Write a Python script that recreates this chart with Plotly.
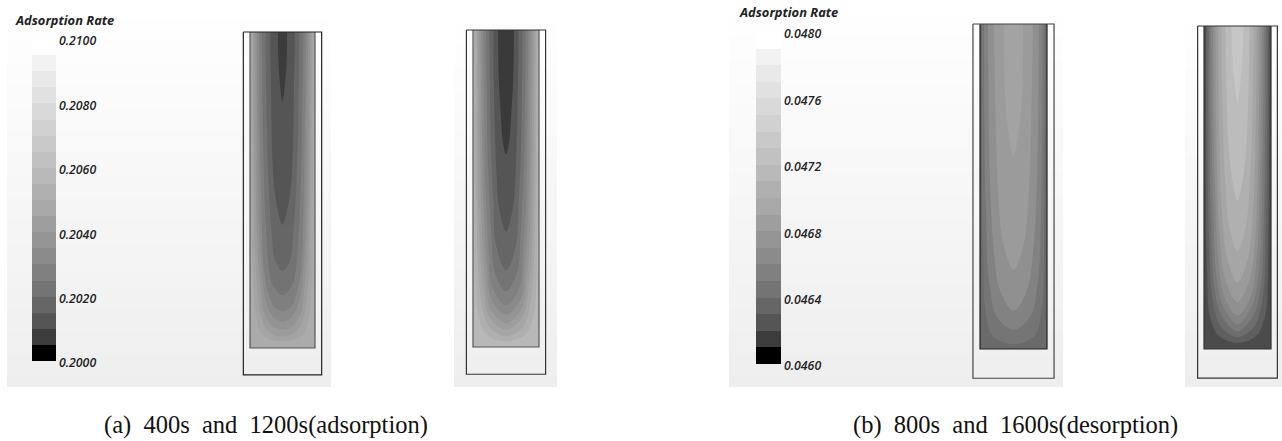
import plotly.graph_objects as go

W, H = 1282, 441

# Colour-bar content
BAR_GRAYS = ["#000000", "#3c3c3c", "#555555", "#666666", "#747474", "#808080", "#8b8b8b",
             "#959595", "#9e9e9e", "#a8a8a8", "#b0b0b0", "#b9b9b9", "#c1c1c1", "#c9c9c9",
             "#d1d1d1", "#d9d9d9", "#e1e1e1", "#e9e9e9", "#f2f2f2", "#ffffff"]
BAR_A_LEVELS = [0.20025, 0.20075, 0.20125, 0.20175, 0.20225, 0.20275, 0.20325, 0.20375, 0.20425, 0.20475,
                0.20525, 0.20575, 0.20625, 0.20675, 0.20725, 0.20775, 0.20825, 0.20875, 0.20925, 0.20975]
BAR_B_LEVELS = [0.04605, 0.04615, 0.04625, 0.04635, 0.04645, 0.04655, 0.04665, 0.04675, 0.04685, 0.04695,
                0.04705, 0.04715, 0.04725, 0.04735, 0.04745, 0.04755, 0.04765, 0.04775, 0.04785, 0.04795]
BAR_A_TICKS = [0.2000, 0.2020, 0.2040, 0.2060, 0.2080, 0.2100]
BAR_B_TICKS = [0.0460, 0.0464, 0.0468, 0.0472, 0.0476, 0.0480]
BAR_A_LABELS = ["0.2000", "0.2020", "0.2040", "0.2060", "0.2080", "0.2100"]
BAR_B_LABELS = ["0.0460", "0.0464", "0.0468", "0.0472", "0.0476", "0.0480"]
BAR_TITLE = "Adsorption Rate"
CAPTION_A = "(a)  400s  and  1200s(adsorption)"
CAPTION_B = "(b)  800s  and  1600s(desorption)"

# Contour bands, inner to outer: depth along column (0 top, 1 bottom) and half width (1 = wall)
A_BASE = "#ababab"
A_GRAYS = ["#a4a4a4", "#9c9c9c", "#939393", "#8a8a8a", "#7f7f7f", "#737373", "#666666", "#555555", "#3c3c3c"]
A_DEPTHS = [[0, .80, .91, .955, .974, .979], [0, .70, .85, .92, .955, .963], [0, .65, .80, .89, .93, .942],
            [0, .60, .75, .85, .90, .916], [0, .50, .76, .835, .87, .884], [0, .40, .60, .76, .80, .833],
            [0, .30, .50, .65, .72, .757], [0, .20, .40, .52, .61], [0, .08, .15, .22]]
A_WIDTHS = [[.96, .90, .80, .65, .36, 0], [.91, .84, .74, .60, .34, 0], [.85, .78, .68, .56, .32, 0],
            [.79, .72, .64, .52, .30, 0], [.72, .66, .56, .41, .26, 0], [.64, .58, .52, .40, .30, 0],
            [.52, .48, .42, .32, .24, 0], [.38, .35, .31, .22, 0], [.14, .13, .09, 0]]

B_BASE = "#b8b8b8"
B_GRAYS = ["#afafaf", "#a6a6a6", "#9d9d9d", "#949494", "#8a8a8a", "#808080", "#747474", "#666666", "#555555", "#3a3a3a"]
B_DEPTHS = [[0, .80, .90, .96, .982], [0, .70, .86, .935, .966], [0, .65, .82, .905, .945], [0, .60, .78, .88, .924],
            [0, .55, .75, .85, .898], [0, .50, .70, .81, .869], [0, .45, .65, .76, .825], [0, .35, .55, .68, .758],
            [0, .25, .45, .56, .636], [0, .15, .28, .35, .392]]
B_WIDTHS = [[.97, .92, .84, .60, 0], [.92, .86, .74, .52, 0], [.87, .80, .68, .50, 0], [.81, .74, .63, .47, 0],
            [.75, .68, .57, .44, 0], [.68, .62, .52, .42, 0], [.60, .54, .44, .35, 0], [.50, .46, .38, .30, 0],
            [.38, .35, .29, .21, 0], [.24, .22, .15, .10, 0]]

C_BASE = "#6a6a6a"
C_GRAYS = ["#757575", "#828282", "#909090", "#9b9b9b", "#a3a3a3"]
C_DEPTHS = [[0, .70, .88, .96, .985], [0, .55, .80, .90, .941], [0, .45, .68, .82, .882], [0, .30, .55, .68, .756], [0, .20, .32, .408]]
C_WIDTHS = [[.95, .91, .84, .62, 0], [.88, .83, .72, .50, 0], [.76, .71, .60, .40, 0], [.58, .53, .44, .30, 0], [.29, .26, .17, 0]]

D_BASE = "#4b4b4b"
D_GRAYS = ["#5f5f5f", "#6d6d6d", "#7a7a7a", "#858585", "#909090", "#9b9b9b", "#a6a6a6", "#b0b0b0", "#bcbcbc", "#c6c6c6"]
D_DEPTHS = [[0, .75, .90, .96, .981], [0, .65, .85, .93, .963], [0, .60, .82, .90, .945], [0, .55, .78, .87, .924],
            [0, .50, .72, .84, .896], [0, .45, .68, .79, .855], [0, .40, .60, .72, .793], [0, .30, .50, .62, .697],
            [0, .20, .38, .48, .54], [0, .10, .18, .235]]
D_WIDTHS = [[.95, .91, .82, .55, 0], [.90, .85, .74, .50, 0], [.85, .79, .68, .46, 0], [.79, .73, .62, .42, 0],
            [.73, .67, .57, .39, 0], [.66, .61, .51, .35, 0], [.58, .53, .45, .31, 0], [.48, .44, .36, .25, 0],
            [.36, .33, .26, .15, 0], [.18, .15, .08, 0]]

fig = go.Figure()
layout = dict(width=W, height=H, margin=dict(l=0, r=0, t=0, b=0, pad=0, autoexpand=False), paper_bgcolor="white",
              plot_bgcolor="rgba(0,0,0,0)", showlegend=False)
axis_count = [0]


def new_axes(x0, x1, y0, y1, xrange, yrange, **yextra):
    axis_count[0] += 1
    n = axis_count[0]
    suffix = str(n) if n > 1 else ""
    base = dict(visible=False, showgrid=False, zeroline=False, fixedrange=True)
    layout["xaxis" + suffix] = dict(base, domain=[x0 / W, x1 / W], range=xrange, anchor="y" + suffix)
    layout["yaxis" + suffix] = {**base, "domain": [1 - y1 / H, 1 - y0 / H], "range": yrange,
                                "anchor": "x" + suffix, **yextra}
    return "x" + suffix, "y" + suffix


def backdrop(x0, x1, y0, y1):
    xa, ya = new_axes(x0, x1, y0, y1, [0, 1], [1, 0])
    fig.add_trace(go.Heatmap(x=[0, 1], y=[0, 1], z=[[0, 0], [1, 1]], zsmooth="best", showscale=False,
                             colorscale=[[0, "#ffffff"], [1, "#eeeeee"]], hoverinfo="skip", xaxis=xa, yaxis=ya))


def colorbar(x0, x1, y0, y1, levels, ticks, labels):
    xa, ya = new_axes(x0, x1, y0, y1, [-.5, .5], [ticks[0], ticks[-1]], visible=True, side="right",
                      tickmode="array", tickvals=ticks, ticktext=labels, ticks="", showline=False,
                      ticklabelstandoff=2, ticklabelshift=2,
                      tickfont=dict(family="Open Sans", size=12.3, color="#222222", style="italic", weight=600))
    fig.add_trace(go.Heatmap(x=[0], y=levels, z=[[i] for i in range(len(levels))], zmin=0, zmax=len(levels) - 1,
                             showscale=False, hoverinfo="skip",
                             colorscale=[[i / (len(BAR_GRAYS) - 1), c] for i, c in enumerate(BAR_GRAYS)],
                             xaxis=xa, yaxis=ya))


def column(x0, x1, y0, y1, outer_half, outer_bottom, base, grays, depths, widths, wall, frame):
    xa, ya = new_axes(x0, x1, y0, y1, [-1, 1], [1, 0])
    fig.add_trace(go.Scatter(x=[-1, 1, 1, -1], y=[0, 0, 1, 1], mode="lines", fill="toself", fillcolor=base,
                             line=dict(width=0), hoverinfo="skip", xaxis=xa, yaxis=ya))
    for gray, ds, ws in zip(grays, depths, widths):
        xs = [w for w in ws] + [-w for w in reversed(ws[:-1])]
        ys = list(ds) + list(reversed(ds[:-1]))
        xs = [ws[0]] + xs + [-ws[0]]
        ys = [-.06] + ys + [-.06]
        fig.add_trace(go.Scatter(x=xs, y=ys, mode="lines", fill="toself", fillcolor=gray,
                                 line=dict(width=0, shape="spline", smoothing=1), hoverinfo="skip", xaxis=xa, yaxis=ya))
    # second axis pair, a little larger than the outer box, holds the outlines at the same scale
    px_x = (x1 - x0) / 2
    px_y = y1 - y0
    pad = 3
    xb, yb = new_axes(x0 - (outer_half - 1) * px_x - pad, x1 + (outer_half - 1) * px_x + pad,
                      y0 - pad, y0 + outer_bottom * px_y + pad,
                      [-outer_half - pad / px_x, outer_half + pad / px_x], [outer_bottom + pad / px_y, -pad / px_y])
    fig.add_trace(go.Scatter(x=[-1, -1, 1, 1], y=[0, 1, 1, 0], mode="lines",
                             line=dict(color=wall, width=1.2), hoverinfo="skip", xaxis=xb, yaxis=yb))
    fig.add_trace(go.Scatter(x=[-outer_half, outer_half, outer_half, -outer_half, -outer_half],
                             y=[0, 0, outer_bottom, outer_bottom, 0], mode="lines",
                             line=dict(color=frame, width=1.2), hoverinfo="skip", xaxis=xb, yaxis=yb))


backdrop(7, 331, 7, 387)
backdrop(454, 557, 12, 387)
backdrop(729, 1063, 2, 387)
backdrop(1185, 1282, 12, 387)

colorbar(32, 56, 39, 361, BAR_A_LEVELS, BAR_A_TICKS, BAR_A_LABELS)
colorbar(756, 781, 32, 364, BAR_B_LEVELS, BAR_B_TICKS, BAR_B_LABELS)

column(250, 315, 32, 348, 1.205, 1.085, A_BASE, A_GRAYS, A_DEPTHS, A_WIDTHS, "#555555", "#222222")
column(473, 539, 30, 347, 1.2, 1.086, B_BASE, B_GRAYS, B_DEPTHS, B_WIDTHS, "#555555", "#333333")
column(980, 1047, 24, 349, 1.21, 1.09, C_BASE, C_GRAYS, C_DEPTHS, C_WIDTHS, "#222222", "#444444")
column(1204, 1271, 26, 349, 1.19, 1.09, D_BASE, D_GRAYS, D_DEPTHS, D_WIDTHS, "#333333", "#333333")

title_font = dict(family="Open Sans", size=12.9, color="#222222", style="italic", weight=700)
caption_font = dict(family="Liberation Serif", size=24.5, color="#111111")
notes = [
    dict(text=BAR_TITLE, x=13 / W, y=1 - 20 / H, font=title_font),
    dict(text=BAR_TITLE, x=737 / W, y=1 - 12 / H, font=title_font),
    dict(text=CAPTION_A, x=102 / W, y=1 - 425 / H, font=caption_font),
    dict(text=CAPTION_B, x=851 / W, y=1 - 425 / H, font=caption_font),
]
layout["annotations"] = [dict(n, xref="paper", yref="paper", xanchor="left", yanchor="middle", showarrow=False) for n in notes]

fig.update_layout(**layout)
fig.write_html("out.html", config={"displayModeBar": False},
               post_script="document.body.style.margin='0';document.documentElement.style.overflow='hidden';")
